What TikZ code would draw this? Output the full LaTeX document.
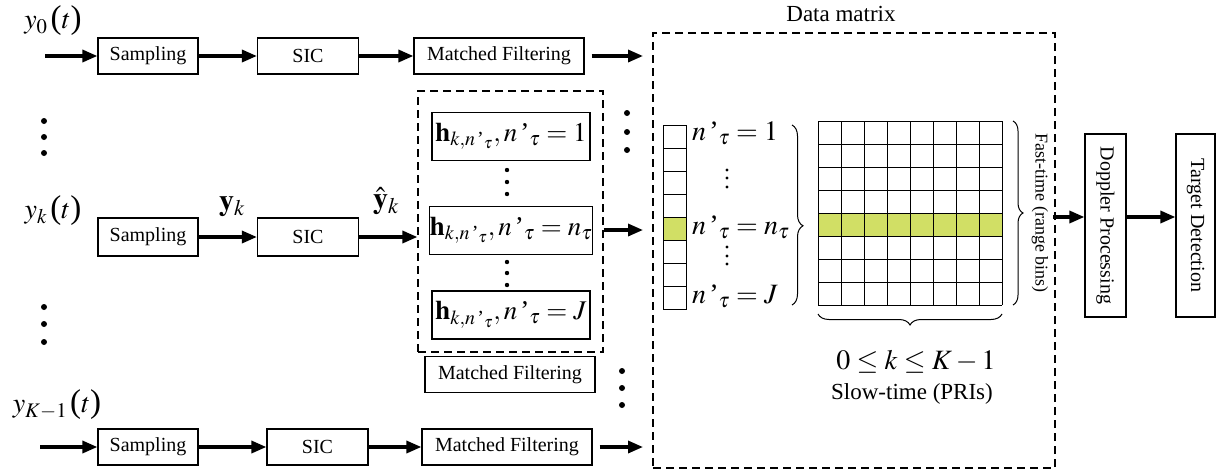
\documentclass[tikz,border=0pt]{standalone}
\usepackage{amsmath}
\usepackage{mathptmx}
\usepackage[no-math]{fontspec}
\setmainfont{Liberation Serif}
\usetikzlibrary{arrows.meta,decorations.pathreplacing}
\definecolor{cellgreen}{RGB}{209,223,101}
\newcommand{\fs}[1]{\fontsize{#1}{#1}\selectfont}
\newcommand{\np}{n\,\text{'}_{\tau}}
\newcommand{\lp}{\,\text{\fs{33}(}}
\newcommand{\rp}{\text{\fs{33})}}
\tikzset{
  blk/.style={draw, line width=1.2pt, inner sep=0pt, font=\fs{20}},
  hbox/.style={draw, line width=1.2pt, inner sep=0pt, minimum width=158pt, minimum height=48pt, font=\fs{27}},
  dbox/.style={draw, dashed, dash pattern=on 8pt off 5pt, line width=1.2pt, inner sep=0pt},
  arr/.style={line width=3.3pt, -{Triangle[length=15pt,width=12pt]}},
  cell/.style={draw, line width=1pt},
  bigdot/.style={fill=black},
  lbl/.style={inner sep=0pt, font=\fs{28}},
  nlbl/.style={inner sep=0pt, font=\fs{28}, anchor=base west},
  brc/.style={decorate, line width=1pt},
}
\begin{document}
\begin{tikzpicture}[x=1pt,y=-1pt]
\useasboundingbox (0,0) rectangle (1225,474);

% ---- row 0
\node[lbl] (y0) at (53,21) {$y_0\lp t\rp$};
\coordinate (a0) at (45,56);
\node[blk, minimum width=100pt, minimum height=36pt] (s0) at (148,56) {Sampling};
\node[blk, minimum width=101pt, minimum height=36pt] (c0) at (308,56) {SIC};
\node[blk, minimum width=170pt, minimum height=36pt] (m0) at (499,56) {Matched Filtering};
\coordinate (e0) at (643,56);
\draw[arr] (a0) -- (s0);
\draw[arr] (s0) -- (c0);
\draw[arr] (c0) -- (m0);
\draw[arr] ([xshift=7pt]m0.east) -- (e0);

% ---- left dots
\foreach \yy in {121,137,153} \fill[bigdot] (44,\yy) circle (3pt);
\foreach \yy in {307,324,342} \fill[bigdot] (44,\yy) circle (3pt);

% ---- row k
\node[lbl] (yk) at (53,211) {$y_k\lp t\rp$};
\coordinate (ak) at (40,237);
\node[blk, minimum width=100pt, minimum height=38pt] (sk) at (148,237) {Sampling};
\node[blk, minimum width=101pt, minimum height=38pt] (ck) at (308,237) {SIC};
\node[lbl, font=\fs{30}] (ykb) at (232,207) {$\mathbf{y}_k$};
\node[lbl, font=\fs{30}] (ykh) at (386,201) {$\hat{\mathbf{y}}_k$};

\node[dbox, minimum width=185pt, minimum height=261pt] (ib) at (510.5,221.5) {};
\node[hbox] (h1) at (511,136.5) {$\mathbf{h}_{k,\np},\np=1$};
\node[hbox] (h2) at (511,230.5) {$\mathbf{h}_{k,\np},\np=n_{\tau}$};
\node[hbox] (h3) at (511,315) {$\mathbf{h}_{k,\np},\np=J$};
\foreach \yy in {170,182,194,262,273,285} \fill[bigdot] (507,\yy) circle (2.2pt);
\foreach \yy in {113,132,150} \fill[bigdot] (627,\yy) circle (3pt);

\draw[arr] (sk) -- (ck);
\draw[arr] (ck.east) -- (ck.east -| ib.west);
\coordinate (ek) at (643,230);
\draw[arr] (ib.east |- ek) -- (ek);

\node[blk, minimum width=170pt, minimum height=36pt] (mk) at (510,374.5) {Matched Filtering};
\foreach \yy in {371,388,405} \fill[bigdot] (622,\yy) circle (3pt);

% ---- row K-1
\node[lbl] (yK) at (57,405) {$y_{K-1}\lp t\rp$};
\coordinate (aK) at (40,447);
\node[blk, minimum width=100pt, minimum height=36pt] (sK) at (148,447) {Sampling};
\node[blk, minimum width=101pt, minimum height=36pt] (cK) at (317.5,447) {SIC};
\node[blk, minimum width=170pt, minimum height=36pt] (mK) at (507,447) {Matched Filtering};
\coordinate (eK) at (643,447);
\draw[arr] (aK) -- (sK);
\draw[arr] (sK) -- (cK);
\draw[arr] (cK) -- (mK);
\draw[arr] ([xshift=7pt]mK.east) -- (eK);

% ---- data matrix
\node[font=\fs{23}, inner sep=0pt] (dmt) at (841,14) {Data matrix};
\node[dbox, minimum width=402pt, minimum height=435pt] (dm) at (854,250.5) {};

\foreach \i in {0,...,7} {
  \pgfmathsetmacro{\yt}{125+23*\i}
  \ifnum\i=4
    \draw[cell, fill=cellgreen] (663,\yt) rectangle +(23,23);
  \else
    \draw[cell] (663,\yt) rectangle +(23,23);
  \fi
}
\node[nlbl] (l1) at (692,140) {$\np=1$};
\node[nlbl] (l2) at (692,234) {$\np=n_{\tau}$};
\node[nlbl] (l3) at (692,303) {$\np=J$};
\foreach \yy in {170,178,187,247,256,264} \fill[bigdot] (727,\yy) circle (1.6pt);

\fill[cellgreen] (818,213) rectangle (1002,236);
\foreach \i in {0,...,8} {
  \draw[line width=1pt] ({818+23*\i},121) -- ({818+23*\i},305);
  \draw[line width=1pt] (818,{121+23*\i}) -- (1002,{121+23*\i});
}
\coordinate (b1t) at (792,125);
\coordinate (b1b) at (792,305);
\draw[brc, decoration={brace, amplitude=11pt, aspect=0.56}] (b1t) -- (b1b);
\coordinate (b2t) at (1013,121);
\coordinate (b2b) at (1013,305);
\draw[brc, decoration={brace, amplitude=10pt}] (b2t) -- (b2b);
\coordinate (b3r) at (1002,314);
\coordinate (b3l) at (818,314);
\draw[brc, decoration={brace, amplitude=11pt}] (b3r) -- (b3l);

\node[font=\fs{18}, inner sep=0pt, rotate=-90] (ft) at (1040,213) {Fast-time (range bins)};
\node[font=\fs{28}, inner sep=0pt] (kr) at (916,362) {$0\le k\le K-1$};
\node[font=\fs{23}, inner sep=0pt] (st) at (912,394) {Slow-time (PRIs)};

% ---- right blocks
\node[blk, minimum width=41pt, minimum height=183pt] (dop) at (1105.5,225.5) {};
\node[font=\fs{20}, inner sep=0pt, rotate=-90] (dopt) at (dop.center) {Doppler Processing};
\node[blk, minimum width=39pt, minimum height=183pt] (tgt) at (1195.5,225.5) {};
\node[font=\fs{20}, inner sep=0pt, rotate=-90] (tgtt) at (tgt.center) {Target Detection};
\coordinate (d0) at (1053,217);
\draw[arr] (d0) -- (d0 -| dop.west);
\draw[arr] (dop.east |- d0) -- (d0 -| tgt.west);
\end{tikzpicture}
\end{document}
